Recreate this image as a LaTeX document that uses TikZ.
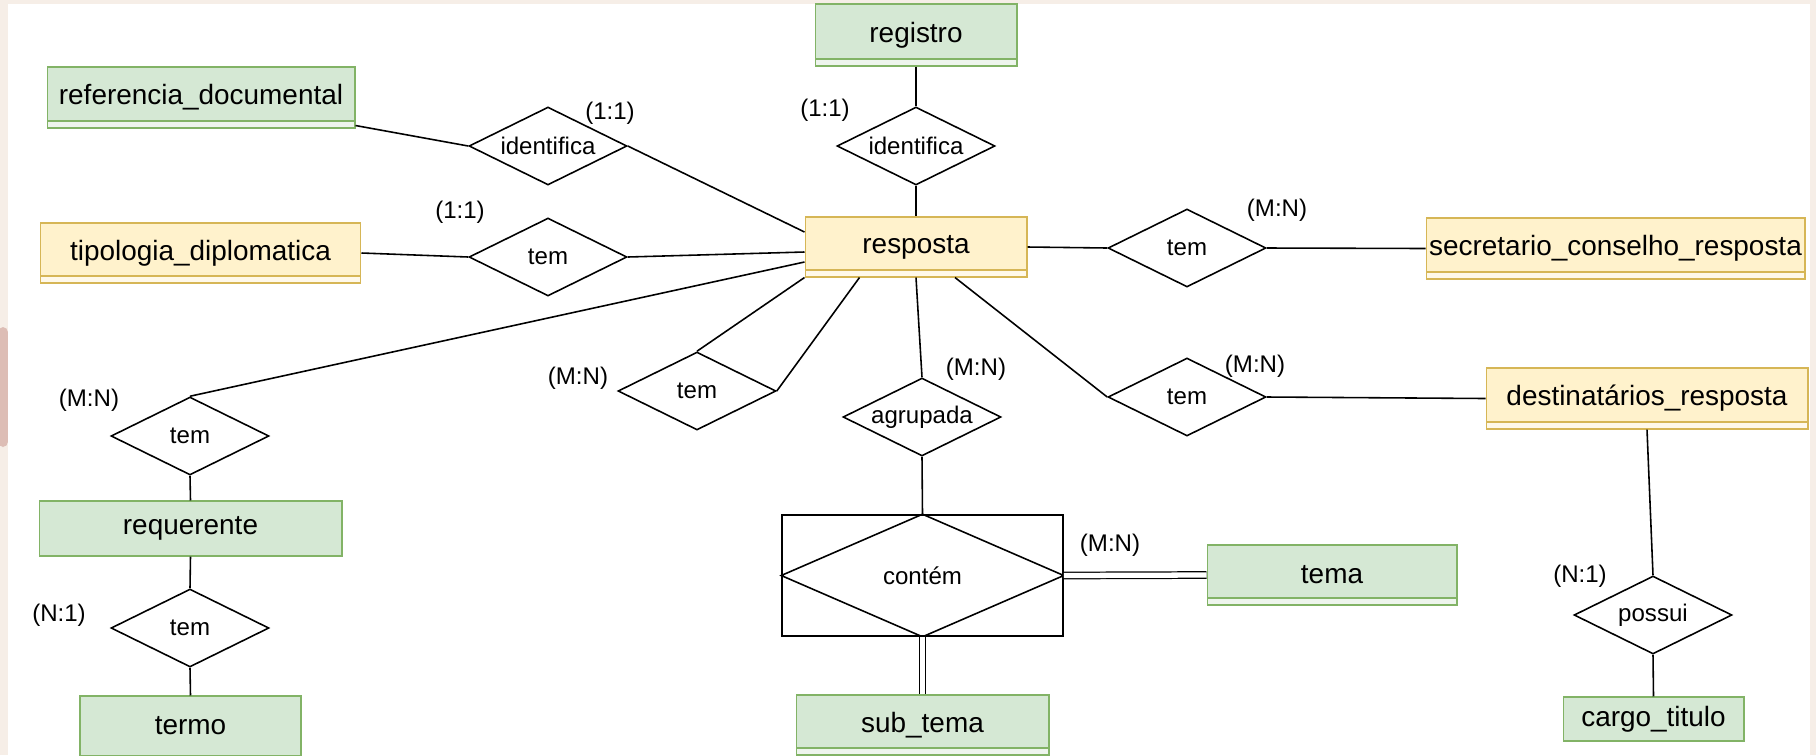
\documentclass[tikz,border=0pt]{standalone}
\usepackage{fontspec}
\setmainfont{Liberation Sans}
\usetikzlibrary{shapes.geometric}

\definecolor{entgreen}{HTML}{D5E8D4}
\definecolor{entgreenline}{HTML}{82B366}
\definecolor{entyellow}{HTML}{FFF2CC}
\definecolor{entyellowline}{HTML}{D6B656}
\definecolor{paper}{HTML}{F6EEE7}
\definecolor{stain}{HTML}{DDBDB5}

\newcommand\relw{3.16cm}
\newcommand\relh{1.56cm}
\newcommand\entfont{\fontsize{15.9}{19}\selectfont}
\newcommand\relfont{\fontsize{13.7}{16}\selectfont}

\tikzset{
  entity/.style={rectangle, draw=#1line, fill=#1, inner sep=0pt, font=\entfont, line width=0.6pt},
  rowline/.style={path picture={
    \draw[draw=#1, line width=0.6pt, fill=white, fill opacity=0.6]
      ([xshift=-2pt,yshift=-2pt]path picture bounding box.south west) rectangle
      ([xshift=2pt,yshift=0.14cm]path picture bounding box.south east);}},
  relation/.style={diamond, aspect=2, draw, fill=white, line width=0.9pt, minimum width=\relw,
    minimum height=\relh, inner sep=0pt, font=\relfont},
  card/.style={font=\relfont, inner sep=0pt},
  link/.style={line width=0.9pt},
  dlink/.style={double, double distance=3pt, line width=0.7pt}
}

\begin{document}
\begin{tikzpicture}[x=0.02cm, y=-0.02cm]
    \useasboundingbox (0,0) rectangle (1816,755);
    \fill[paper] (0,0) rectangle (1816,755);
    \fill[stain, rounded corners=3pt] (-2,327) rectangle (8,447);
    \fill[white] (8,4) rectangle (1810,760);

    % entidades
    \node[entity=entgreen, rowline=entgreenline, minimum width=6.16cm, minimum height=1.22cm] (referencia) at (201,97.5) {referencia\_documental};
    \node[entity=entyellow, rowline=entyellowline, minimum width=6.42cm, minimum height=1.2cm] (tipologia) at (200.5,253) {tipologia\_diplomatica};
    \node[entity=entgreen, rowline=entgreenline, minimum width=4.04cm, minimum height=1.24cm] (registro) at (916,35) {registro};
    \node[entity=entyellow, rowline=entyellowline, minimum width=4.44cm, minimum height=1.2cm] (resposta) at (916,247) {resposta};
    \node[entity=entyellow, rowline=entyellowline, minimum width=7.58cm, minimum height=1.22cm] (secretario) at (1615.5,248.5) {secretario\_conselho\_resposta};
    \node[entity=entyellow, rowline=entyellowline, minimum width=6.44cm, minimum height=1.22cm] (destinatarios) at (1647,398.5) {destinatários\_resposta};
    \node[entity=entgreen, rowline=entgreenline, minimum width=5cm, minimum height=1.2cm] (tema) at (1332,575) {tema};
    \node[entity=entgreen, rowline=entgreenline, minimum width=5.06cm, minimum height=1.2cm] (subtema) at (922.5,725) {sub\_tema};
    \node[entity=entgreen, minimum width=6.06cm, minimum height=1.1cm] (requerente) at (190.5,528.5) {requerente};
    \node[entity=entgreen, minimum width=4.42cm, minimum height=1.2cm] (termo) at (190.5,726) {termo};
    \node[entity=entgreen, minimum width=3.62cm, minimum height=0.88cm] (cargo) at (1653.5,719) {cargo\_titulo};

    % relacionamentos
    \node[relation] (idref) at (548,146) {identifica};
    \node[relation] (idreg) at (916,146) {identifica};
    \node[relation] (temtipo) at (548,257) {tem};
    \node[relation] (temsec) at (1187,248) {tem};
    \node[relation] (temreq) at (190,436) {tem};
    \node[relation] (temmeio) at (697,391) {tem};
    \node[relation] (agrupada) at (922,417) {agrupada};
    \node[relation] (temdest) at (1187,397) {tem};
    \node[relation] (temtermo) at (190,628) {tem};
    \node[relation] (possui) at (1653,615) {possui};
    \node[rectangle, draw, line width=0.9pt, minimum width=5.62cm, minimum height=2.42cm, inner sep=0pt, font=\relfont] (contem) at (922.5,575.5) {contém};
    \draw[link] (contem.north) -- (contem.east) -- (contem.south) -- (contem.west) -- cycle;

    % ligacoes
    \draw[link] ([yshift=0.06cm]referencia.south east) -- (idref.west);
    \draw[link] (idref.east) -- ([yshift=0.3cm]resposta.west);
    \draw[link] (tipologia.east) -- (temtipo.west);
    \draw[link] (temtipo.east) -- ([yshift=-0.1cm]resposta.west);
    \draw[link] (registro.south) -- (idreg.north);
    \draw[link] (idreg.south) -- (resposta.north);
    \draw[link] (resposta.east) -- (temsec.west);
    \draw[link] (temsec.east) -- (secretario.west);
    \draw[link] (temreq.north) -- ([yshift=-0.3cm]resposta.west);
    \draw[link] (temreq.south) -- (requerente.north);
    \draw[link] (requerente.south) -- (temtermo.north);
    \draw[link] (temtermo.south) -- (termo.north);
    \draw[link] (temmeio.north) -- (resposta.south west);
    \draw[link] (temmeio.east) -- ([xshift=1.1cm]resposta.south west);
    \draw[link] (resposta.south) -- (agrupada.north);
    \draw[link] (agrupada.south) -- (contem.north);
    \draw[link] ([xshift=0.78cm]resposta.south) -- (temdest.west);
    \draw[link] (temdest.east) -- (destinatarios.west);
    \draw[link] (destinatarios.south) -- (possui.north);
    \draw[link] (possui.south) -- (cargo.north);
    \draw[dlink] (contem.east) -- (tema.west);
    \draw[dlink] (contem.south) -- (subtema.north);

    % cardinalidades
    \node[card] (cidref) at (610,113) {(1:1)};
    \node[card] (cidreg) at (825,110) {(1:1)};
    \node[card] (ctipo) at (460,212) {(1:1)};
    \node[card] (csec) at (1277,210) {(M:N)};
    \node[card] (creq) at (89,400) {(M:N)};
    \node[card] (cmeio) at (578,378) {(M:N)};
    \node[card] (cagrup) at (976,369) {(M:N)};
    \node[card] (cdest) at (1255,366) {(M:N)};
    \node[card] (ctema) at (1110,545) {(M:N)};
    \node[card] (cpossui) at (1580,576) {(N:1)};
    \node[card] (ctermo) at (59,615) {(N:1)};
\end{tikzpicture}
\end{document}
